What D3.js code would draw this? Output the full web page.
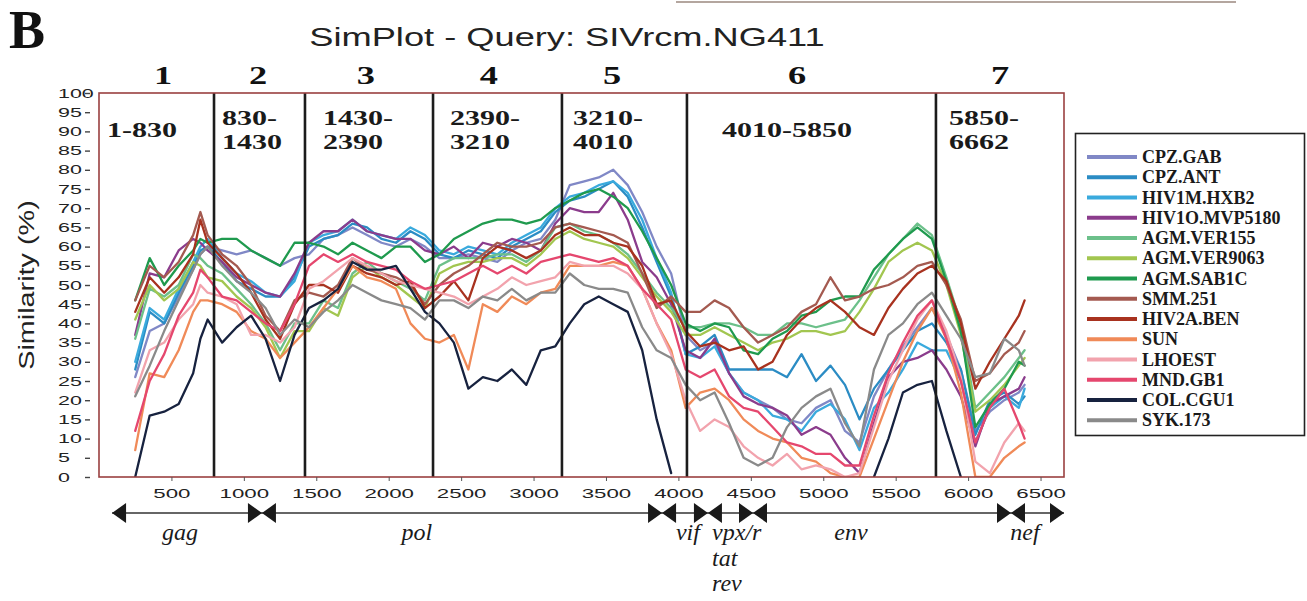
<!DOCTYPE html>
<html><head><meta charset="utf-8">
<script src="https://cdn.jsdelivr.net/npm/d3@7"></script>
<style>body{margin:0;background:#fff;} svg{display:block;}</style>
</head><body><svg id="chart" width="1307" height="601"></svg>
<script>
// ---- data ----
const positions = [250,350,450,550,650,700,750,850,950,1050,1150,1250,1350,1450,1550,1650,1750,1850,1950,2050,2150,2250,2350,2450,2550,2650,2750,2850,2950,3050,3150,3250,3350,3450,3550,3650,3750,3850,3950,4050,4150,4250,4350,4450,4550,4650,4750,4850,4950,5050,5150,5250,5350,5450,5550,5650,5750,5850,5950,6050,6150,6250,6350,6390];

const cpzGab = [26,38,40,47,54,58,60, 59,58,59,57,55,57, 58,62,63,65,63,61,60,62,60, 57,57,58,57,56,59,61,62,67, 76,77,78,80,76,69,60,53,37, 33,35,27,22,20,18,15,14,18,20,12,9,21,28,34,39,44, 37,28,12,17,20,22,24];
const cpzAnt = [28,43,40,48,55,59,60, 56,51,49,47,47,52, 60,62,63,66,65,62,61,64,62, 58,57,59,58,57,60,62,64,69, 72,73,75,77,73,65,56,47,32, 34,37,28,28,28,28,26,32,25,29,24,15,23,28,33,38,40, 35,28,11,20,22,19,21];
const hiv1mHxb2 = [30,44,41,49,56,60,62, 57,53,51,48,47,51, 61,63,64,67,64,63,62,65,63, 59,58,60,59,58,61,63,65,70, 73,74,76,77,74,67,57,48,32, 31,34,27,22,20,16,15,12,17,19,15,7,18,22,28,35,33, 33,25,9,18,21,18,23];
const hiv1oMvp5180 = [37,53,52,59,62,61,59, 56,52,50,48,47,53, 61,64,64,67,64,63,62,62,59, 58,60,57,61,60,62,61,59,66, 70,69,69,74,67,56,52,45,33, 31,36,27,21,19,18,16,11,13,11,5,1,14,26,30,31,33, 28,21,8,19,21,23,26];
const agmVer155 = [36,49,47,50,58,57,55, 53,49,45,40,33,40, 40,46,44,53,56,53,51,49,46, 55,57,57,57,58,58,56,59,65, 66,64,63,61,58,53,48,44,39, 39,40,40,39,37,37,40,40,39,40,41,46,52,58,62,66,63, 52,40,18,22,26,31,33];
const agmVer9063 = [41,50,46,49,56,55,52, 51,47,44,39,31,38, 38,44,42,52,55,52,50,47,44, 53,55,56,56,57,57,55,58,62, 64,62,61,60,57,52,47,43,37, 37,39,37,35,33,35,36,38,38,37,38,43,49,56,59,61,59, 50,37,17,20,24,29,31];
const agmSab1c = [46,57,50,55,59,62,61, 62,62,59,57,55,61, 61,60,58,61,59,57,60,60,56, 58,62,64,66,67,67,66,67,70, 72,74,75,73,70,64,57,50,40, 38,40,39,33,32,36,38,42,43,46,47,47,54,58,62,65,62, 51,38,13,19,23,30,29];
const smm251 = [46,55,52,56,63,69,63, 58,55,50,42,38,46, 48,47,50,57,54,53,52,50,45, 50,53,55,58,61,60,60,61,65, 66,65,64,63,61,53,44,47,43, 43,46,44,39,35,37,39,43,45,52,46,47,49,50,52,55,56, 50,41,25,27,32,35,38];
const hiv2aBen = [43,52,48,52,58,67,61, 57,53,48,41,36,45, 50,50,48,55,53,52,50,51,44, 47,51,46,57,60,59,57,59,63, 65,63,63,61,60,55,45,46,38, 34,35,33,34,28,30,37,41,44,46,43,39,37,44,49,53,55, 51,40,23,30,36,42,46];
const sun = [7,27,26,33,43,46,46, 45,43,38,36,31,35, 39,44,49,55,52,51,49,40,36, 35,37,28,45,43,47,45,48,49, 55,55,55,56,55,49,40,33,18, 22,23,20,15,12,10,9,5,4,1,0,0,10,20,30,38,44, 36,22,0,0,5,8,9];
const lhoest = [22,33,35,41,45,50,48, 47,45,37,37,35,39, 49,51,54,57,55,53,51,50,49, 48,47,45,47,49,52,50,51,52, 56,55,55,55,53,49,40,32,20, 12,15,13,8,5,3,6,2,3,2,0,1,13,25,33,41,46, 38,26,4,1,9,14,12];
const mndGb1 = [12,25,32,42,48,54,52, 47,46,43,40,38,45, 55,58,56,58,56,55,54,51,49, 50,51,53,55,53,55,53,56,57, 58,57,56,57,55,49,45,41,28, 26,28,21,18,17,13,9,8,6,6,3,3,16,27,35,42,46, 36,25,9,18,23,14,10];
const colCgu1 = [0,16,17,19,27,36,41, 35,39,42,36,25,37, 44,46,49,56,54,54,55,49,43, 40,35,23,26,25,28,24,33,34, 40,45,47,45,43,33,15,1,null, null,null,null,null,null,null,null,null,null,null,null,null,0,10,22,24,25, 12,0,null,null,null,null,null];
const syk173 = [21,29,38,46,54,58,60, 55,51,48,44,37,41, 39,43,46,50,48,46,45,44,41, 46,46,44,47,46,49,46,48,48, 53,50,49,49,48,39,33,31,24, 20,22,14,5,3,5,13,18,21,23,14,8,28,37,40,45,48, 42,36,26,27,36,33,29];

const seriesNames = ["CPZ.GAB","CPZ.ANT","HIV1M.HXB2","HIV1O.MVP5180","AGM.VER155","AGM.VER9063","AGM.SAB1C","SMM.251","HIV2A.BEN","SUN","LHOEST","MND.GB1","COL.CGU1","SYK.173"];
const seriesValues = [cpzGab,cpzAnt,hiv1mHxb2,hiv1oMvp5180,agmVer155,agmVer9063,agmSab1c,smm251,hiv2aBen,sun,lhoest,mndGb1,colCgu1,syk173];
const seriesColors = ["#8088c6","#2b8cc4","#3aaadd","#8b3c8c","#6cc08a","#a2c650","#1f9a4e","#a45a50","#a8321f","#f08a58","#f2a3ad","#e5476e","#17223f","#8a8a8a"];

const yTicks = [0,5,10,15,20,25,30,35,40,45,50,55,60,65,70,75,80,85,90,95,100];
const xTicks = [500,1000,1500,2000,2500,3000,3500,4000,4500,5000,5500,6000,6500];
const genomeLength = 6662;

const regionBounds = [794,1422,2306,3196,4059,5778];
const regionNumbers = ["1","2","3","4","5","6","7"];
const regionNumberPos = [442,1098,1843,2692,3542,4819,6220];
const regionLabels = [["1-830"],["830-","1430"],["1430-","2390"],["2390-","3210"],["3210-","4010"],["4010-5850"],["5850-","6662"]];
const regionLabelPos = [55,849,1546,2423,3272,4301,5868];

const geneEnds = [90,6662];
const geneBounds = [1125,3887,4204,4515,6296];
const geneNames = [["gag"],["pol"],["vif"],["vpx/r","tat","rev"],["env"],["nef"]];
const genePos = [559,2195,4066,4232,5191,6393];
const geneAnchor = ["middle","middle","middle","start","middle","middle"];

const titleText = "SimPlot - Query: SIVrcm.NG411";
const yTitle = "Similarity (%)";
const panelLetter = "B";

// ---- drawing ----
const svg = d3.select("#chart");
svg.append("rect").attr("width",1307).attr("height",601).attr("fill","#fff");

const x = d3.scaleLinear().domain([0, genomeLength]).range([99, 1064]);
const y = d3.scaleLinear().domain([0, 100]).range([477, 93]);

function stretchText(parent, str, px, py, sx, font, size, weight, anchor, style, fill) {
  return parent.append("text")
    .attr("transform", `translate(${px},${py}) scale(${sx},1)`)
    .attr("text-anchor", anchor || "start")
    .attr("font-family", font).attr("font-size", size)
    .attr("font-weight", weight || "normal")
    .attr("font-style", style || "normal")
    .attr("fill", fill || "#1a1a1a")
    .text(str);
}

// scan artifact rule at top right
svg.append("line").attr("x1",676).attr("x2",1236).attr("y1",2).attr("y2",2)
  .attr("stroke","#b4a69f").attr("stroke-width",2);

// panel letter and title
svg.append("text").attr("x",9).attr("y",48).attr("font-family","Liberation Serif, Times New Roman, serif")
  .attr("font-weight","bold").attr("font-size",54).attr("fill","#111").text(panelLetter);
stretchText(svg, titleText, 567, 46, 1.45, "Liberation Sans, Arial, sans-serif", 25, "normal", "middle", "normal", "#222");

// region numbers
regionNumbers.forEach((n,i) => {
  stretchText(svg, n, x(regionNumberPos[i]), 84, 1.4, "Liberation Serif, Times New Roman, serif", 26, "bold", "middle", "normal", "#111");
});

// clip
svg.append("clipPath").attr("id","plotclip").append("rect")
  .attr("x", x(0)).attr("y", y(100)).attr("width", x(genomeLength)-x(0)).attr("height", y(0)-y(100));

// series lines
const line = d3.line()
  .defined(d => d.v !== null)
  .x(d => x(d.p)).y(d => y(d.v));
const lg = svg.append("g").attr("clip-path","url(#plotclip)");
seriesValues.forEach((vals, i) => {
  const pts = positions.map((p, j) => ({p: p, v: vals[j]}));
  lg.append("path").datum(pts).attr("d", line)
    .attr("fill","none").attr("stroke", seriesColors[i])
    .attr("stroke-width", 2.3).attr("stroke-linejoin","round").attr("stroke-linecap","round");
});

// region boundaries
svg.append("g").selectAll("line").data(regionBounds).join("line")
  .attr("x1", d => x(d)).attr("x2", d => x(d))
  .attr("y1", y(100)).attr("y2", y(0))
  .attr("stroke","#1c1c1c").attr("stroke-width",2.6);

// frame
svg.append("rect").attr("x", x(0)).attr("y", y(100))
  .attr("width", x(genomeLength)-x(0)).attr("height", y(0)-y(100))
  .attr("fill","none").attr("stroke","#9a4040").attr("stroke-width",1.6);

// region labels
regionLabels.forEach((lines, i) => {
  const base = lines.length === 1 ? [137] : [125, 149];
  lines.forEach((t, k) => {
    stretchText(svg, t, x(regionLabelPos[i]), base[k], 1.43, "Liberation Serif, Times New Roman, serif", 21, "bold", "start", "normal", "#1a1a1a");
  });
});

// y axis
const yAxis = svg.append("g").attr("transform", `translate(${x(0)},0)`)
  .call(d3.axisLeft(y).tickValues(yTicks).tickSize(0).tickPadding(0));
yAxis.select(".domain").remove();
yAxis.selectAll(".tick text").attr("text-anchor","start").attr("x",0)
  .attr("font-family","Liberation Sans, Arial, sans-serif").attr("font-size",13).attr("fill","#222")
  .attr("transform","translate(-41,0) scale(1.65,1)");
yAxis.selectAll(".tick").append("line").attr("x1",-14).attr("x2",-9).attr("stroke","#444").attr("stroke-width",1.4);

// x axis
const xAxis = svg.append("g").attr("transform", `translate(0,${y(0)})`)
  .call(d3.axisBottom(x).tickValues(xTicks).tickFormat(d3.format("d")).tickSize(4).tickPadding(7));
xAxis.select(".domain").remove();
xAxis.selectAll(".tick line").attr("stroke","#555");
xAxis.selectAll(".tick text").attr("font-family","Liberation Sans, Arial, sans-serif").attr("font-size",13.5)
  .attr("fill","#222").attr("transform","scale(1.65,1)");

// y title
svg.append("text").attr("transform","translate(34,285) rotate(-90) scale(1.31,1)")
  .attr("text-anchor","middle").attr("font-family","Liberation Sans, Arial, sans-serif")
  .attr("font-size",22).attr("fill","#222").text(yTitle);

// gene map
const gy = 513, th = 10, tw = 14;
const gm = svg.append("g");
gm.append("line").attr("x1", x(geneEnds[0])).attr("x2", x(geneEnds[1])).attr("y1", gy).attr("y2", gy)
  .attr("stroke","#333").attr("stroke-width",1.4);
const tri = (tipX, dir) => `M${tipX},${gy} L${tipX - dir*tw},${gy-th} L${tipX - dir*tw},${gy+th} Z`;
gm.append("path").attr("d", tri(x(geneEnds[0]), -1)).attr("fill","#1a1a1a");
gm.append("path").attr("d", tri(x(geneEnds[1]), 1)).attr("fill","#1a1a1a");
geneBounds.forEach(b => {
  gm.append("path").attr("d", tri(x(b), 1)).attr("fill","#1a1a1a");
  gm.append("path").attr("d", tri(x(b), -1)).attr("fill","#1a1a1a");
});
geneNames.forEach((lines, i) => {
  lines.forEach((t, k) => {
    gm.append("text").attr("x", x(genePos[i])).attr("y", 540 + k*25.5)
      .attr("text-anchor", geneAnchor[i])
      .attr("font-family","Liberation Serif, Times New Roman, serif").attr("font-style","italic")
      .attr("font-size",24).attr("fill","#1a1a1a").text(t);
  });
});

// legend
const leg = svg.append("g");
leg.append("rect").attr("x",1075.5).attr("y",133.5).attr("width",229).attr("height",302)
  .attr("fill","#fff").attr("stroke","#222").attr("stroke-width",1.6);
seriesNames.forEach((n, i) => {
  const ly = 157 + i*20.25;
  leg.append("line").attr("x1",1087).attr("x2",1137).attr("y1",ly).attr("y2",ly)
    .attr("stroke", seriesColors[i]).attr("stroke-width",4);
  leg.append("text").attr("x",1142).attr("y",ly+6)
    .attr("font-family","Liberation Serif, Times New Roman, serif").attr("font-weight","bold")
    .attr("font-size",18).attr("fill","#1a1a1a").text(n);
});
</script></body></html>
